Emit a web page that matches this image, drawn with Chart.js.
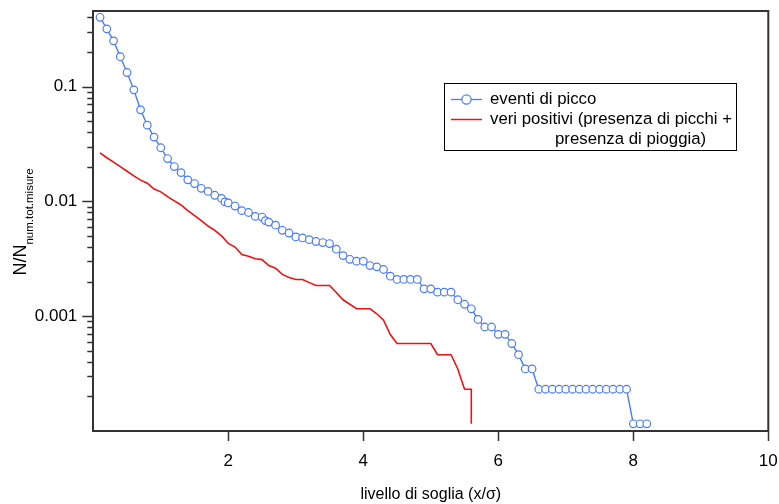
<!DOCTYPE html>
<html>
<head>
<meta charset="utf-8">
<script src="https://cdn.jsdelivr.net/npm/chart.js@4/dist/chart.umd.min.js"></script>
<style>
html,body{margin:0;padding:0;background:#fff;}
#wrap{width:779px;height:504px;}
</style>
</head>
<body>
<div id="wrap"><canvas id="c" width="779" height="504"></canvas></div>
<script>
// ---- data ----
const blueX = [0.1,0.2,0.3,0.4,0.5,0.6,0.7,0.8,0.9,1.0,1.1,1.2,1.3,1.4,1.5,1.6,1.7,1.8,1.9,1.95,
  2.0,2.1,2.2,2.3,2.4,2.5,2.55,2.6,2.7,2.8,2.9,3.0,3.1,3.2,3.3,3.4,3.5,3.6,3.7,3.8,3.9,
  4.0,4.1,4.2,4.3,4.4,4.5,4.6,4.7,4.8,4.9,5.0,5.1,5.2,5.3,5.4,5.5,5.6,5.7,5.8,5.9,
  6.0,6.1,6.2,6.3,6.4,6.5,6.6,6.7,6.8,6.9,7.0,7.1,7.2,7.3,7.4,7.5,7.6,7.7,7.8,7.9,8.0,8.1,8.2];
const blueY = [0.401,0.318,0.250,0.182,0.1325,0.0936,0.0627,0.0461,0.0363,0.0293,
  0.0236,0.0201,0.0178,0.0154,0.0143,0.0130,0.0122,0.0113,0.0106,0.0099,
  0.0097,0.0091,0.0083,0.0080,0.0074,0.0073,0.0068,
  0.0066,0.0062,0.0056,0.0053,0.0049,0.0048,0.00464,0.00447,0.00438,0.00429,
  0.00383,0.00337,0.00313,0.00301,0.00301,0.00276,0.00269,0.00255,0.00223,
  0.00209,0.00209,0.00209,0.00209,0.00173,0.00173,0.00162,0.00162,0.00162,
  0.00139,0.00127,0.00116,0.000936,0.000805,0.000805,0.000695,0.000695,
  0.000578,0.000462,0.000347,0.000347,
  0.000231,0.000231,0.000231,0.000231,0.000231,0.000231,0.000231,
  0.000231,0.000231,0.000231,0.000231,0.000231,0.000231,0.000231,
  0.0001155,0.0001155,0.0001155];

const redX = [0.1,0.2,0.3,0.4,0.5,0.6,0.7,0.8,0.9,1.0,1.1,1.2,1.3,1.4,1.5,1.6,1.7,1.8,1.9,2.0,
  2.1,2.2,2.3,2.4,2.5,2.6,2.7,2.8,2.9,3.0,3.1,3.2,3.3,3.4,3.5,3.6,3.7,3.8,3.9,4.0,
  4.1,4.2,4.3,4.4,4.5,4.6,4.7,4.8,4.9,5.0,5.1,5.2,5.3,5.4,5.5,5.6,5.6];
const redY = [0.0264,0.0240,0.0220,0.0201,0.0183,0.0167,0.0153,0.0144,0.0128,0.0121,
  0.0110,0.0101,0.0093,0.0083,0.0075,0.0068,0.0061,0.0056,0.0050,0.0043,
  0.0040,0.00344,0.00332,0.00316,0.00311,0.00276,0.00262,0.00231,0.00217,0.00209,
  0.00209,0.00196,0.00185,0.00185,0.00185,0.00161,0.00139,0.00127,0.00116,0.00116,
  0.00116,0.00105,0.000924,0.000693,0.000578,0.000578,0.000578,0.000578,0.000578,0.000578,
  0.000462,0.000462,0.000462,0.000347,0.000231,0.000231,0.0001155];

const seriesNames = ['eventi di picco', 'veri positivi (presenza di picchi + presenza di pioggia)'];
const legendLines = ['eventi di picco', 'veri positivi (presenza di picchi +', 'presenza di pioggia)'];
const xTickValues = [2, 4, 6, 8, 10];
const yMajorValues = [0.001, 0.01, 0.1];
const yMajorLabels = ['0.001', '0.01', '0.1'];
const yMinorValues = [0.0002,0.0003,0.0004,0.0005,0.0006,0.0007,0.0008,0.0009,
  0.002,0.003,0.004,0.005,0.006,0.007,0.008,0.009,
  0.02,0.03,0.04,0.05,0.06,0.07,0.08,0.09,0.2,0.3,0.4];
const xTitle = 'livello di soglia (x/σ)';
const yTitleMain = 'N/N';
const yTitleSub = 'num.tot.misure';

// ---- styles ----
const FAMILY = '"Liberation Sans", Arial, Helvetica, sans-serif';
const BLUE = '#4a7bfa';
const RED = '#f21010';
const AX = '#333333';

const decor = {
  id: 'decor',
  afterDraw(chart) {
    const ctx = chart.ctx;
    const a = chart.chartArea;
    const ys = chart.scales.y;
    ctx.save();
    // frame top and right
    ctx.strokeStyle = AX;
    ctx.lineWidth = 2;
    ctx.beginPath();
    ctx.moveTo(a.left - 1, a.top);
    ctx.lineTo(a.right, a.top);
    ctx.lineTo(a.right, a.bottom + 1);
    ctx.stroke();
    // y ticks (major long, minor short), pointing outward
    ctx.lineWidth = 1.5;
    const all = yMajorValues.map(v => [v, 10]).concat(yMinorValues.map(v => [v, 5]));
    all.forEach(([v, len]) => {
      const py = Math.round(ys.getPixelForValue(v)) + 0.5;
      ctx.beginPath();
      ctx.moveTo(a.left - 1, py);
      ctx.lineTo(a.left - 1 - len, py);
      ctx.stroke();
    });
    // y title with subscript
    ctx.fillStyle = '#000';
    ctx.textBaseline = 'alphabetic';
    ctx.textAlign = 'left';
    ctx.font = '18px ' + FAMILY;
    const w1 = ctx.measureText(yTitleMain).width;
    ctx.font = '11.5px ' + FAMILY;
    const w2 = ctx.measureText(yTitleSub).width;
    const cy = 222;
    ctx.translate(26, cy + (w1 + w2) / 2);
    ctx.rotate(-Math.PI / 2);
    ctx.font = '18px ' + FAMILY;
    ctx.fillText(yTitleMain, 0, 0);
    ctx.font = '11.5px ' + FAMILY;
    ctx.fillText(yTitleSub, w1, 6.5);
    ctx.restore();

    // legend
    ctx.save();
    ctx.strokeStyle = '#000';
    ctx.lineWidth = 1;
    ctx.strokeRect(444.5, 83.5, 292, 67);
    ctx.lineWidth = 1.3;
    ctx.strokeStyle = BLUE;
    ctx.beginPath(); ctx.moveTo(451, 99.5); ctx.lineTo(482, 99.5); ctx.stroke();
    ctx.beginPath(); ctx.arc(466.5, 99.5, 4.6, 0, Math.PI * 2);
    ctx.fillStyle = '#fff'; ctx.fill(); ctx.lineWidth = 1.2; ctx.stroke();
    ctx.strokeStyle = RED; ctx.lineWidth = 1.5;
    ctx.beginPath(); ctx.moveTo(451, 119.5); ctx.lineTo(482, 119.5); ctx.stroke();
    ctx.fillStyle = '#000';
    ctx.font = '16.8px ' + FAMILY;
    ctx.textBaseline = 'middle';
    ctx.textAlign = 'left';
    ctx.fillText(legendLines[0], 490, 99.5);
    ctx.fillText(legendLines[1], 490, 119.5);
    ctx.fillText(legendLines[2], 555, 139.5);
    ctx.restore();
  }
};

new Chart(document.getElementById('c').getContext('2d'), {
  type: 'line',
  data: {
    datasets: [
      {
        label: seriesNames[0],
        data: blueX.map((x, i) => ({ x: x, y: blueY[i] })),
        borderColor: BLUE,
        borderWidth: 1.4,
        pointRadius: 3.8,
        pointBorderWidth: 1.2,
        pointBackgroundColor: '#ffffff',
        pointBorderColor: BLUE,
        tension: 0,
        fill: false
      },
      {
        label: seriesNames[1],
        data: redX.map((x, i) => ({ x: x, y: redY[i] })),
        borderColor: RED,
        borderWidth: 1.6,
        pointRadius: 0,
        tension: 0,
        fill: false
      }
    ]
  },
  options: {
    responsive: false,
    animation: false,
    devicePixelRatio: 1,
    layout: { padding: { top: 11, right: 10.7, left: 0, bottom: 0 } },
    plugins: { legend: { display: false }, tooltip: { enabled: false }, title: { display: false } },
    scales: {
      x: {
        type: 'linear',
        min: 0, max: 10,
        afterBuildTicks: s => { s.ticks = xTickValues.map(v => ({ value: v })); },
        afterFit: s => { s.height = 73; s.paddingLeft = 0; s.paddingRight = 0; },
        grid: { display: true, drawOnChartArea: false, drawTicks: true, tickLength: 10, tickColor: AX, tickWidth: 1.5 },
        border: { display: true, color: AX, width: 2 },
        ticks: { color: '#000', font: { family: FAMILY, size: 17 }, padding: 10, maxRotation: 0, autoSkip: false,
                 callback: v => String(v) },
        title: { display: true, text: xTitle, color: '#000', font: { family: FAMILY, size: 16 }, padding: { top: 0, bottom: 0 } }
      },
      y: {
        type: 'logarithmic',
        min: 0.0001, max: 0.455,
        afterBuildTicks: s => { s.ticks = yMajorValues.map(v => ({ value: v, major: true })); },
        afterFit: s => { s.width = 93.3; s.paddingTop = 0; s.paddingBottom = 0; },
        grid: { display: true, drawOnChartArea: false, drawTicks: false },
        border: { display: true, color: AX, width: 2 },
        ticks: { color: '#000', font: { family: FAMILY, size: 17 }, padding: 16, autoSkip: false,
                 callback: (v) => { const k = yMajorValues.indexOf(v); return k >= 0 ? yMajorLabels[k] : ''; } }
      }
    }
  },
  plugins: [decor]
});
</script>
</body>
</html>
